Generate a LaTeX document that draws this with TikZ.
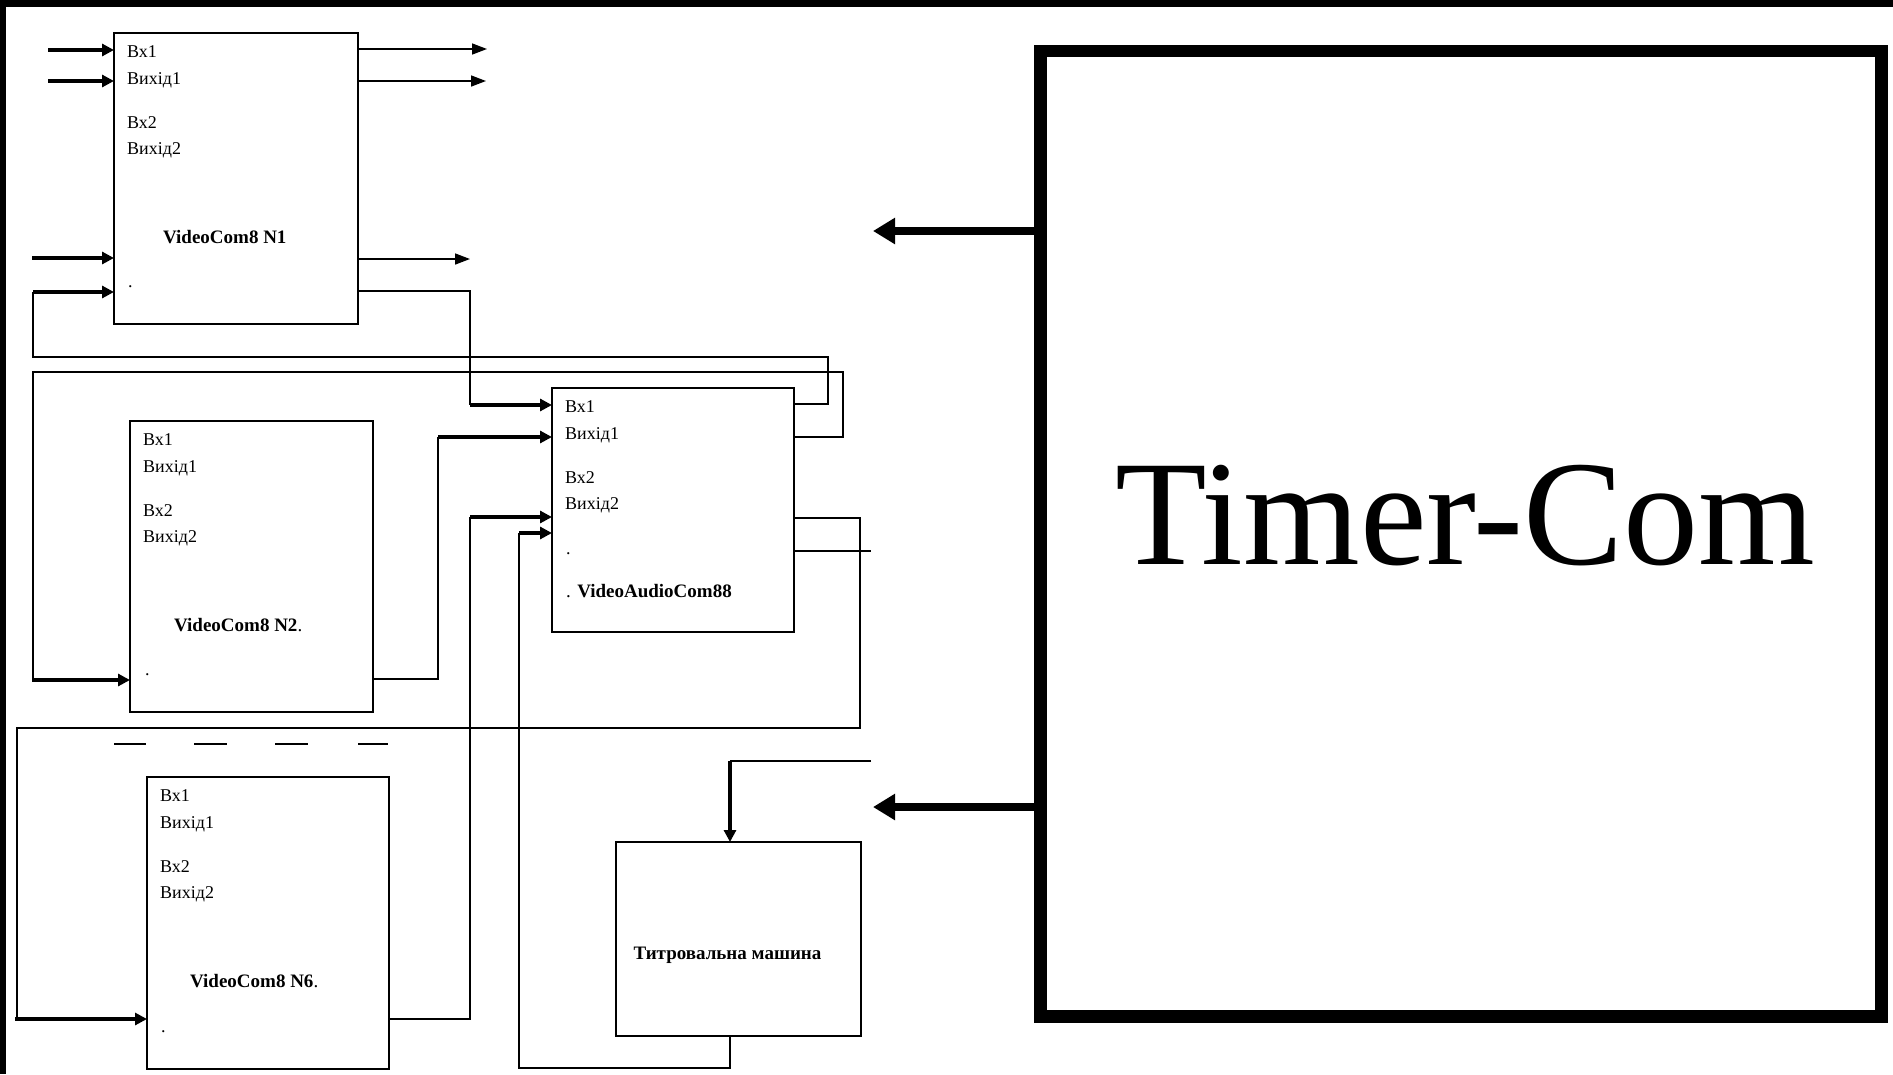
\documentclass[tikz,border=0pt]{standalone}
\usepackage{fontspec}
\setmainfont{Liberation Serif}
\usetikzlibrary{arrows.meta,calc,positioning}

\begin{document}
\begin{tikzpicture}[x=1pt,y=-1pt,
    blk/.style={draw,line width=1.6pt,inner sep=0pt,outer sep=0pt,anchor=north west},
    thinln/.style={line width=1.6pt},
    inarr/.style={line width=3.4pt,-{Triangle[length=12pt,width=12pt]}},
    outarr/.style={line width=1.6pt,-{Triangle[length=15pt,width=11pt]}},
    bigarr/.style={line width=7.5pt,-{Triangle[length=22pt,width=25pt]}},
    port/.style={anchor=base west,inner sep=0pt,font=\fontsize{18}{20}\selectfont},
    title/.style={anchor=base west,inner sep=0pt,font=\fontsize{19}{21}\selectfont\bfseries}]

    \useasboundingbox (0,0) rectangle (1893,1074);
    % frame remains of the scan
    \fill (0,0) rectangle (1893,7);
    \fill (0,0) rectangle (6,1074);

    % blocks
    \node[blk,minimum width=244pt,minimum height=291pt] (n1) at (114,33) {};
    \node[blk,minimum width=243pt,minimum height=291pt] (n2) at (130,421) {};
    \node[blk,minimum width=242pt,minimum height=292pt] (n6) at (147,777) {};
    \node[blk,minimum width=242pt,minimum height=244pt] (vac) at (552,388) {};
    \node[blk,minimum width=245pt,minimum height=194pt] (tit) at (616,842) {};
    \node[blk,line width=12.5pt,minimum width=841pt,minimum height=965.5pt] (timer) at (1040.5,51) {};

    % port labels
    \foreach \b in {n1,n2,n6,vac}{
        \node[port] (\b-p1) at ($(\b.north west)+(13,24.5)$) {Вх1};
        \node[port] (\b-p2) at ($(\b.north west)+(13,51)$) {Вихід1};
        \node[port] (\b-p3) at ($(\b.north west)+(13,95)$) {Вх2};
        \node[port] (\b-p4) at ($(\b.north west)+(13,121)$) {Вихід2};
    }
    \node[port] (n1-dot) at ($(n1.north west)+(14,254)$) {.};
    \node[port] (n2-dot) at ($(n2.north west)+(15,254)$) {.};
    \node[port] (n6-dot) at ($(n6.north west)+(14,255)$) {.};
    \node[port] (vac-dot) at ($(vac.north west)+(14,166)$) {.};

    % block names
    \node[title] (n1-name) at ($(n1.north west)+(49,210)$) {VideoCom8 N1};
    \node[title] (n2-name) at ($(n2.north west)+(44,210)$) {VideoCom8 N2{\mdseries.}};
    \node[title] (n6-name) at ($(n6.north west)+(43,210)$) {VideoCom8 N6{\mdseries.}};
    \node[title] (vac-name) at ($(vac.north west)+(14,209)$) {{\mdseries.} VideoAudioCom88};
    \node[title,anchor=base] (tit-name) at ($(tit.north)+(-11,117)$) {Титровальна машина};
    \node[anchor=base,inner sep=0pt,font=\fontsize{150}{160}\selectfont] (timer-name) at ($(timer.north)+(4.5,513)$) {Timer-Com};

    % inputs of N1
    \coordinate (in1) at (48,50);
    \coordinate (in2) at (48,81);
    \coordinate (in3) at (32,258);
    \draw[inarr] (in1) -- (in1 -| n1.west);
    \draw[inarr] (in2) -- (in2 -| n1.west);
    \draw[inarr] (in3) -- (in3 -| n1.west);

    % outputs of N1
    \coordinate (out1) at (487,49);
    \coordinate (out2) at (486,81);
    \coordinate (out3) at (470,259);
    \draw[outarr] (out1 -| n1.east) -- (out1);
    \draw[outarr] (out2 -| n1.east) -- (out2);
    \draw[outarr] (out3 -| n1.east) -- (out3);
    \draw[thinln] ($(n1.north east)+(0,258)$) -| (470,405);
    \draw[inarr] (470,405) -- (vac.west |- 470,405);

    % feedback VAC -> N1
    \draw[thinln] ($(vac.north east)+(0,16)$) -| (828,357) -| (33,292);
    \draw[inarr] (33,292) -- (n1.west |- 33,292);

    % feedback VAC -> N2
    \draw[thinln] ($(vac.north east)+(0,49)$) -| (843,372) -| (33,680);
    \draw[inarr] (32,680) -- (n2.west |- 32,680);

    % N2 -> VAC
    \draw[thinln] ($(n2.north east)+(0,258)$) -| (438,437);
    \draw[inarr] (438,437) -- (vac.west |- 438,437);

    % separator
    \foreach \a/\e in {114/146,194/227,275/308,358/388}
        \draw[thinln] (\a,744) -- (\e,744);

    % feedback VAC -> N6
    \draw[thinln] ($(vac.north east)+(0,130)$) -| (860,728) -| (17,1019);
    \draw[inarr] (15,1019) -- (n6.west |- 15,1019);

    % N6 -> VAC
    \draw[thinln] ($(n6.north east)+(0,242)$) -| (470,517);
    \draw[inarr] (470,517) -- (vac.west |- 470,517);

    % titling machine
    \draw[thinln] ($(tit.south)+(-8.5,0)$) |- (519,1068) -- (519,533);
    \draw[inarr] (519,533) -- (vac.west |- 519,533);
    \coordinate (tin) at (871,761);
    \draw[thinln] (tin) -- (730,761);
    \draw[inarr] (730,761) -- ($(tit.north)+(-8.5,0)$);
    \coordinate (vout) at (871,551);
    \draw[thinln] (vout -| vac.east) -- (vout);

    % control from Timer-Com
    \coordinate (tc1) at (873,231);
    \coordinate (tc2) at (873,807);
    \draw[bigarr] (tc1 -| timer.west) -- (tc1);
    \draw[bigarr] (tc2 -| timer.west) -- (tc2);
\end{tikzpicture}
\end{document}
